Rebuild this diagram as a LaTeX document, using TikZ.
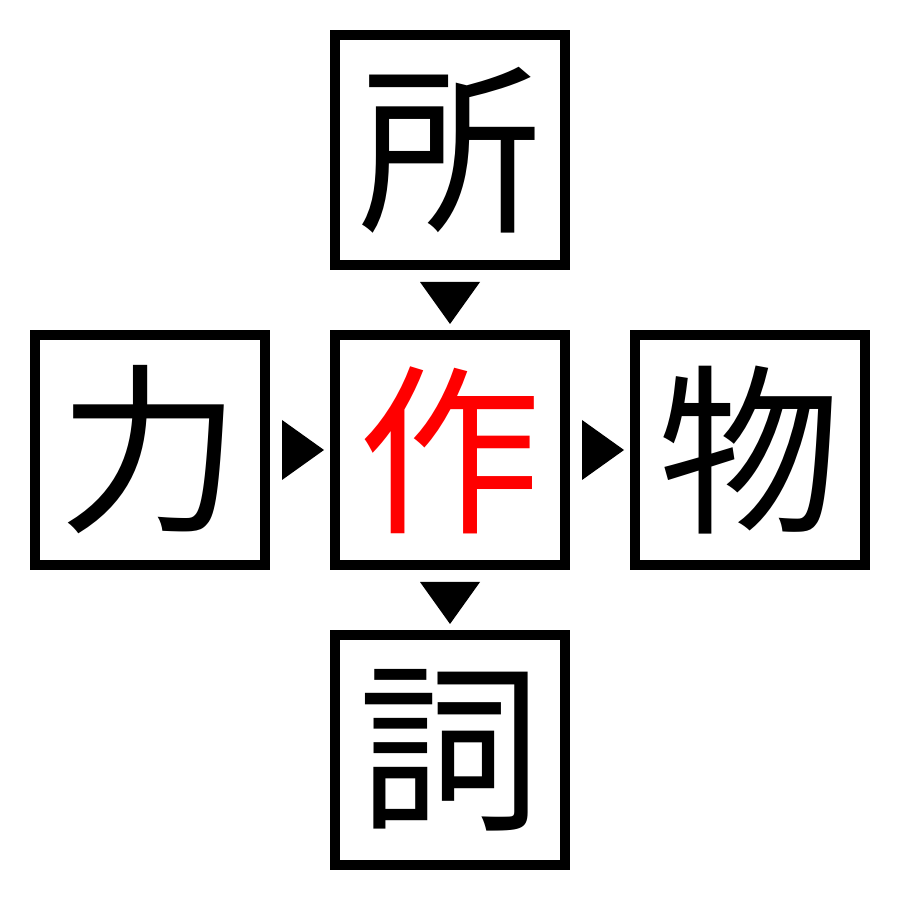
\documentclass[tikz,border=0pt]{standalone}
\usepackage{fontspec}
\newfontfamily\cjk{Noto Sans CJK JP}
\usetikzlibrary{calc}

\tikzset{
	charbox/.style = {draw, line width = 1mm, minimum size = 2.3cm, inner sep = 0pt,
		font = \cjk\fontsize{52}{52}\selectfont},
	marker/.style = {fill = black}
}

\begin{document}
\begin{tikzpicture}
		
		\useasboundingbox (0,0) rectangle (9,9);
		
		% boxes
		\node[charbox] (top) at (4.5,7.5) {所};
		\node[charbox] (left) at (1.5,4.5) {力};
		\node[charbox, text = red] (centre) at (4.5,4.5) {作};
		\node[charbox] (right) at (7.5,4.5) {物};
		\node[charbox] (bottom) at (4.5,1.5) {詞};
		
		% markers between the boxes
		\fill[marker] ($(top.south)+(-0.3,-0.12)$) -- ($(top.south)+(0.3,-0.12)$) -- ($(centre.north)+(0,0.06)$) -- cycle;
		\fill[marker] ($(centre.south)+(-0.3,-0.12)$) -- ($(centre.south)+(0.3,-0.12)$) -- ($(bottom.north)+(0,0.06)$) -- cycle;
		\fill[marker] ($(left.east)+(0.12,0.3)$) -- ($(left.east)+(0.12,-0.3)$) -- ($(centre.west)+(-0.06,0)$) -- cycle;
		\fill[marker] ($(centre.east)+(0.12,0.3)$) -- ($(centre.east)+(0.12,-0.3)$) -- ($(right.west)+(-0.06,0)$) -- cycle;
		
	\end{tikzpicture}
\end{document}
